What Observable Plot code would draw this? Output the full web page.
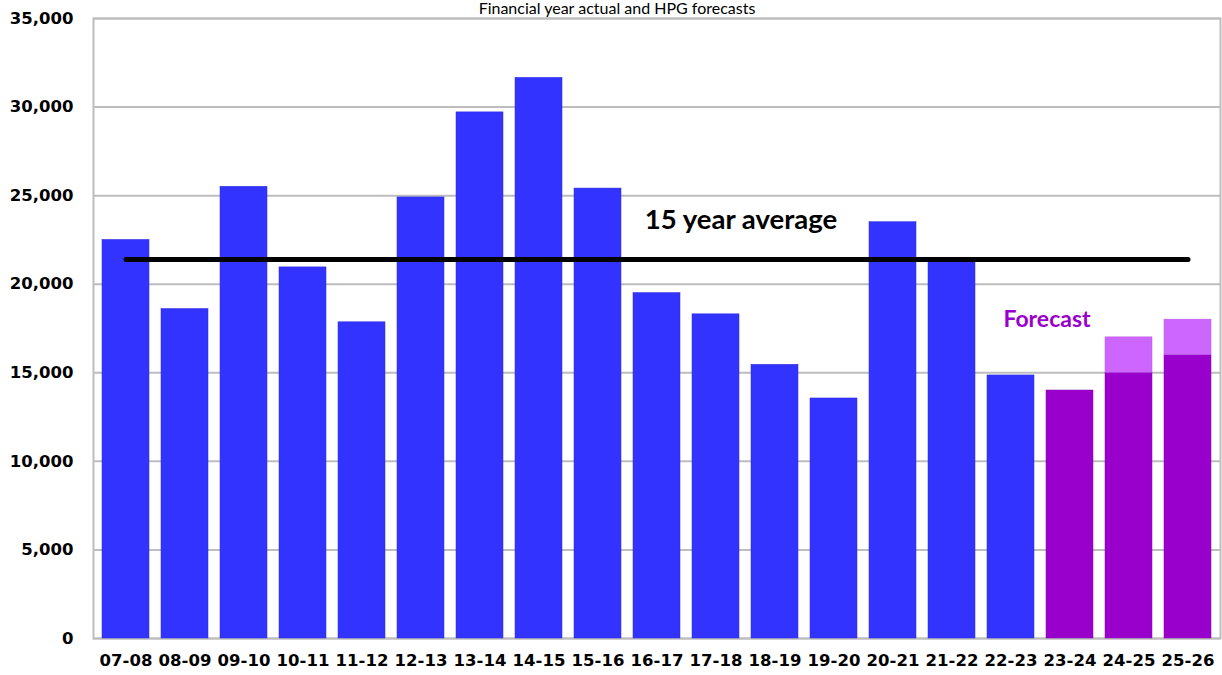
<!DOCTYPE html>
<html>
<head>
<meta charset="utf-8">
<script src="https://cdn.jsdelivr.net/npm/d3@7"></script>
<script src="https://cdn.jsdelivr.net/npm/@observablehq/plot@0.6"></script>
<style>
  html, body { margin: 0; padding: 0; background: #fff; overflow: hidden; }
  #wrap { position: relative; width: 1222px; height: 675px; }
  #title { position: absolute; left: 0; width: 1234px; top: -1px; text-align: center; line-height: 17px;
           font-family: Lato, "Open Sans", sans-serif; font-size: 16px; color: #000; }
  #chart { position: absolute; left: 0; top: 0; }
</style>
</head>
<body>
<div id="wrap">
  <div id="chart"></div>
  <div id="title">Financial year actual and HPG forecasts</div>
</div>
<script>
const years = ["07-08","08-09","09-10","10-11","11-12","12-13","13-14","14-15","15-16","16-17","17-18","18-19","19-20","20-21","21-22","22-23","23-24","24-25","25-26"];
const actual = [22500, 18600, 25500, 20950, 17850, 24900, 29700, 31650, 25400, 19500, 18300, 15450, 13550, 23500, 21300, 14850, null, null, null];
const forecastLow = [null, null, null, null, null, null, null, null, null, null, null, null, null, null, null, null, 14000, 15000, 16000];
const forecastHigh = [null, null, null, null, null, null, null, null, null, null, null, null, null, null, null, null, 14000, 17000, 18000];
const averageValue = 21400;
const yTicks = [0, 5000, 10000, 15000, 20000, 25000, 30000, 35000];
const annotations = [
  {year: "17-18", value: 23600, label: "15 year average"},
  {year: "23-24", value: 18000, label: "Forecast"}
];

const actualData = years.map((y, i) => ({year: y, v: actual[i]})).filter(d => d.v != null);
const lowData = years.map((y, i) => ({year: y, v: forecastLow[i]})).filter(d => d.v != null);
const highData = years.map((y, i) => ({year: y, lo: forecastLow[i], hi: forecastHigh[i]})).filter(d => d.hi != null && d.hi > d.lo);
const avgData = years.map(y => ({year: y, v: averageValue}));

const chart = Plot.plot({
  width: 1222,
  height: 675,
  marginLeft: 93,
  marginRight: 2,
  marginTop: 18,
  marginBottom: 37,
  style: {background: "#fff", overflow: "visible"},
  x: {domain: years, padding: 0.2, paddingOuter: 0.1, label: null, axis: null},
  y: {domain: [0, 35000], label: null, axis: null},
  marks: [
    Plot.gridY(yTicks, {stroke: "#bdbdbd", strokeOpacity: 1, strokeWidth: 2}),
    Plot.frame({stroke: "#bdbdbd", strokeWidth: 2}),
    Plot.barY(actualData, {x: "year", y: "v", fill: "#3333ff", stroke: "#2b2bdd", strokeWidth: 0.5}),
    Plot.barY(lowData, {x: "year", y: "v", fill: "#9900cc", stroke: "#8a00b8", strokeWidth: 0.5}),
    Plot.barY(highData, {x: "year", y1: "lo", y2: "hi", fill: "#cc66ff", stroke: "#b85ce6", strokeWidth: 0.5}),
    Plot.lineY(avgData, {x: "year", y: "v", stroke: "#000", strokeWidth: 5, strokeLinecap: "round"}),
    Plot.text(yTicks, {y: d => d, text: d => d3.format(",")(d), frameAnchor: "left", textAnchor: "end", dx: -20,
      fontSize: 16.5, fontWeight: "bold", fontFamily: "DejaVu Sans", fill: "#000"}),
    Plot.text(years, {x: d => d, text: d => d, frameAnchor: "bottom", dy: 27,
      fontSize: 16.5, fontWeight: "bold", fontFamily: "DejaVu Sans", fill: "#000"}),
    Plot.text(annotations.slice(0, 1), {x: "year", y: "value", text: "label", dx: 25,
      fontSize: 27.5, fontWeight: "bold", fontFamily: "Lato", fill: "#000"}),
    Plot.text(annotations.slice(1), {x: "year", y: "value", text: "label", dx: -23,
      fontSize: 23, fontWeight: "bold", fontFamily: "Lato", fill: "#9900cc"})
  ]
});
document.getElementById("chart").appendChild(chart);
</script>
</body>
</html>
